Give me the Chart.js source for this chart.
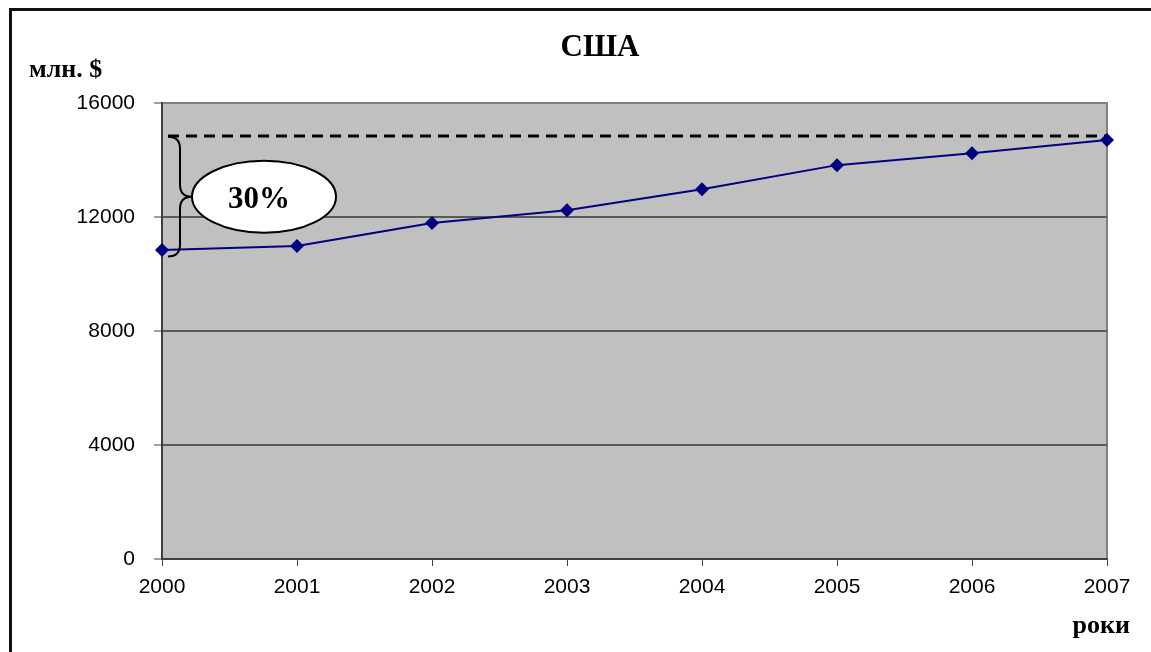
<!DOCTYPE html>
<html>
<head>
<meta charset="utf-8">
<script src="https://cdn.jsdelivr.net/npm/chart.js@4.4.1/dist/chart.umd.min.js"></script>
<style>
  html, body { margin: 0; padding: 0; background: #fff; }
  canvas { display: block; }
</style>
</head>
<body>
<canvas id="chart" width="1151" height="652"></canvas>
<script>
// Роки та обсяг (млн. $)
const years = ['2000', '2001', '2002', '2003', '2004', '2005', '2006', '2007'];
const usaValues = [10840, 10980, 11790, 12240, 12970, 13820, 14240, 14700];
const yTickValues = [0, 4000, 8000, 12000, 16000];
const targetLevel = 14830;
const growthLabel = '30%';
const chartTitle = 'США';
const yAxisTitle = 'млн. $';
const xAxisTitle = 'роки';

const SERIF = '"Liberation Serif", "Times New Roman", serif';
const SANS = '"Liberation Sans", Arial, sans-serif';

const decorations = {
  id: 'decorations',
  beforeDraw(chart) {
    const { ctx, chartArea: a } = chart;
    ctx.save();
    ctx.fillStyle = '#ffffff';
    ctx.fillRect(0, 0, chart.width, chart.height);
    // plot area
    ctx.fillStyle = '#c0c0c0';
    ctx.fillRect(a.left, a.top, a.right - a.left, a.bottom - a.top);
    ctx.strokeStyle = '#808080';
    ctx.lineWidth = 2;
    ctx.beginPath();
    ctx.moveTo(a.left, a.top);
    ctx.lineTo(a.right, a.top);
    ctx.lineTo(a.right, a.bottom);
    ctx.stroke();
    ctx.restore();
  },
  beforeDatasetsDraw(chart) {
    const { ctx, chartArea: a, scales } = chart;
    const y = Math.round(scales.y.getPixelForValue(targetLevel));
    ctx.save();
    ctx.strokeStyle = '#000';
    ctx.lineWidth = 3;
    ctx.setLineDash([11, 7]);
    ctx.beginPath();
    ctx.moveTo(a.left + 6, y);
    ctx.lineTo(a.right, y);
    ctx.stroke();
    ctx.restore();
  },
  afterDraw(chart) {
    const { ctx, chartArea: a, scales } = chart;
    const yTop = scales.y.getPixelForValue(targetLevel) + 0.5;
    const yBot = scales.y.getPixelForValue(usaValues[0]) + 6.5;
    const mid = (yTop + yBot) / 2;
    const x0 = a.left + 6, x1 = a.left + 18, x2 = a.left + 30;
    ctx.save();
    // curly brace
    ctx.strokeStyle = '#000';
    ctx.lineWidth = 2;
    ctx.beginPath();
    ctx.moveTo(x0, yTop);
    ctx.quadraticCurveTo(x1, yTop, x1, yTop + 12);
    ctx.lineTo(x1, mid - 12);
    ctx.quadraticCurveTo(x1, mid, x2, mid);
    ctx.quadraticCurveTo(x1, mid, x1, mid + 12);
    ctx.lineTo(x1, yBot - 12);
    ctx.quadraticCurveTo(x1, yBot, x0, yBot);
    ctx.stroke();
    // ellipse callout
    ctx.beginPath();
    ctx.ellipse(a.left + 102, mid, 72, 36, 0, 0, Math.PI * 2);
    ctx.fillStyle = '#fff';
    ctx.fill();
    ctx.stroke();
    ctx.fillStyle = '#000';
    ctx.font = 'bold 31px ' + SERIF;
    ctx.textAlign = 'center';
    ctx.textBaseline = 'middle';
    ctx.fillText(growthLabel, a.left + 97, mid + 3);
    // titles
    ctx.font = 'bold 31px ' + SERIF;
    ctx.textBaseline = 'alphabetic';
    ctx.fillText(chartTitle, 600, 56);
    ctx.font = 'bold 26px ' + SERIF;
    ctx.textAlign = 'left';
    ctx.fillText(yAxisTitle, 29, 77);
    ctx.textAlign = 'right';
    ctx.fillText(xAxisTitle, 1130, 633);
    // outer frame
    ctx.strokeStyle = '#111';
    ctx.lineWidth = 3;
    ctx.beginPath();
    ctx.moveTo(10.5, chart.height);
    ctx.lineTo(10.5, 9.5);
    ctx.lineTo(chart.width, 9.5);
    ctx.stroke();
    ctx.restore();
  }
};

new Chart(document.getElementById('chart'), {
  type: 'line',
  data: {
    labels: years,
    datasets: [{
      label: chartTitle,
      data: usaValues,
      borderColor: '#000080',
      backgroundColor: '#000080',
      borderWidth: 2,
      pointStyle: 'rectRot',
      pointRadius: 7,
      pointHoverRadius: 7,
      pointBorderWidth: 0,
      tension: 0,
      clip: false
    }]
  },
  options: {
    responsive: false,
    devicePixelRatio: 1,
    animation: false,
    events: [],
    layout: { padding: { left: 0, top: 103, right: 44, bottom: 0 } },
    plugins: { legend: { display: false }, tooltip: { enabled: false }, title: { display: false } },
    scales: {
      x: {
        offset: false,
        grid: { drawOnChartArea: false, drawTicks: true, tickLength: 7, tickColor: '#404040', tickWidth: 1 },
        border: { color: '#404040', width: 2 },
        ticks: { color: '#000', font: { family: SANS, size: 21 }, padding: 9, maxRotation: 0, autoSkip: false },
        afterFit(s) { s.height = 93; }
      },
      y: {
        min: 0, max: 16000,
        afterBuildTicks(s) { s.ticks = yTickValues.map(v => ({ value: v })); },
        grid: {
          color: c => (c.tick && c.tick.value === 16000) ? '#808080' : '#5a5a5a',
          lineWidth: 2,
          tickLength: 8, tickColor: '#404040', tickWidth: 1
        },
        border: { color: '#404040', width: 2 },
        ticks: { color: '#000', font: { family: SANS, size: 21 }, padding: 19, callback: v => String(v) },
        afterFit(s) { s.width = 162; }
      }
    }
  },
  plugins: [decorations]
});
</script>
</body>
</html>
